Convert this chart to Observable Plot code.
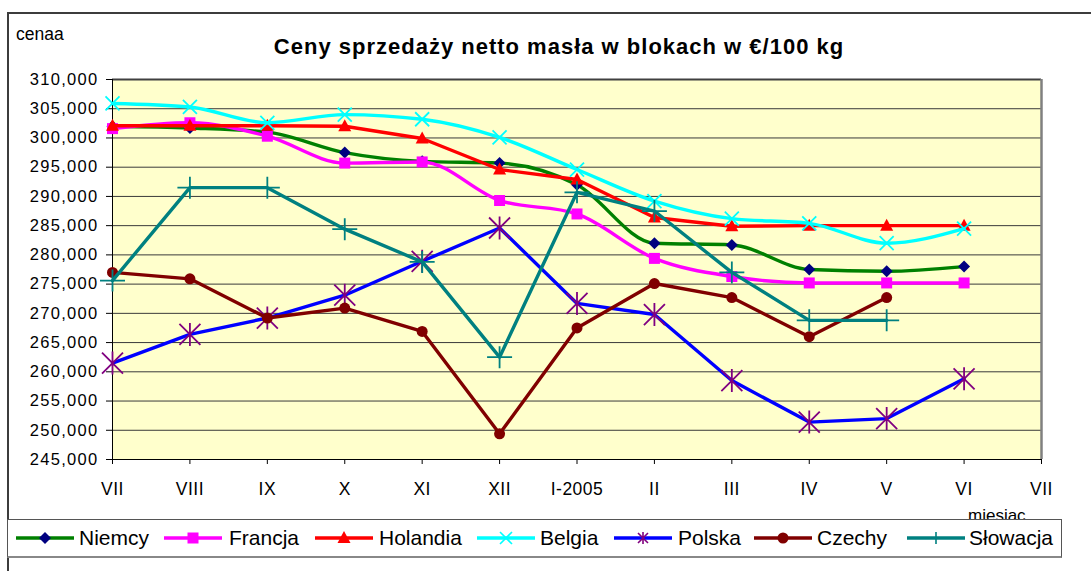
<!DOCTYPE html>
<html>
<head>
<meta charset="utf-8">
<script src="https://cdn.jsdelivr.net/npm/d3@7"></script>
<script src="https://cdn.jsdelivr.net/npm/@observablehq/plot@0.6"></script>
<style>
  html, body { margin: 0; padding: 0; background: #fff; }
  body { width: 1091px; height: 571px; position: relative; overflow: hidden;
         font-family: "Liberation Sans", Arial, sans-serif; color: #000; }
  #outer { position: absolute; left: 7px; top: 12px; width: 1200px; height: 700px;
           border-left: 2px solid #3c3c3c; border-top: 2px solid #3c3c3c; z-index: 2; pointer-events: none; }
  #chart { position: absolute; left: 0; top: 0; z-index: 1; }
  #cenaa { position: absolute; left: 16px; top: 26px; font-size: 17.5px; line-height: 1; z-index: 3; }
  #title { position: absolute; left: 0; width: 1118px; text-align: center; top: 36px; font-size: 22px;
           font-weight: bold; line-height: 1; letter-spacing: 1px; z-index: 3; white-space: nowrap; }
  #miesiac { position: absolute; left: 968px; top: 507px; font-size: 17px; line-height: 1; z-index: 3; }
  #legend { position: absolute; left: 7px; top: 519px; width: 1053px; height: 36px; background: #fff;
            border: 1px solid #555; border-bottom: 2px solid #888; z-index: 4; overflow: hidden; }
  .li { position: absolute; top: 0; height: 36px; line-height: 36px; font-size: 21px; white-space: nowrap; }
  .li svg { position: absolute; top: 10px; }
  #chart g[aria-label="y-axis tick label"] text { letter-spacing: 1.3px; }
  #chart g[aria-label="x-axis tick label"] text { letter-spacing: 0.5px; }
</style>
</head>
<body>
<div id="outer"></div>
<div id="chart"></div>
<div id="cenaa">cenaa</div>
<div id="title">Ceny sprzedaży netto masła w blokach w €/100 kg</div>
<div id="miesiac">miesiac</div>
<div id="legend"></div>
<script>
// ---- data ----
const months = ["VII", "VIII", "IX", "X", "XI", "XII", "I-2005", "II", "III", "IV", "V", "VI", "VII"];
const yTicks = [245000, 250000, 255000, 260000, 265000, 270000, 275000, 280000, 285000, 290000, 295000, 300000, 305000, 310000];
const seriesNames = ["Niemcy", "Francja", "Holandia", "Belgia", "Polska", "Czechy", "Słowacja"];
const niemcy   = [302000, 301700, 301000, 297500, 296000, 295700, 292000, 282000, 281700, 277500, 277200, 278000, null];
const francja  = [301600, 302600, 300300, 295700, 295900, 289300, 287000, 279400, 276300, 275200, 275200, 275200, null];
const holandia = [302100, 302100, 302100, 302000, 299900, 294600, 292900, 286400, 284900, 285000, 285000, 285000, null];
const belgia   = [305900, 305300, 302600, 304000, 303200, 300100, 294600, 289200, 286200, 285400, 282000, 284500, null];
const polska   = [261500, 266400, 269200, 273100, 278900, 284600, 271700, 269800, 258500, 251400, 252000, 258800, null];
const czechy   = [277000, 275900, 269200, 270900, 266900, 249400, 267500, 275100, 272700, 266000, 272700, null, null];
const slowacja = [275600, 291500, 291500, 284400, 278800, 262500, 290700, 287500, 277000, 268800, 268800, null, null];
const seriesValues = [niemcy, francja, holandia, belgia, polska, czechy, slowacja];

// ---- styles ----
const sym = {
  diamond:  {draw(c) { c.moveTo(0, -6); c.lineTo(6, 0); c.lineTo(0, 6); c.lineTo(-6, 0); c.closePath(); }},
  square:   {draw(c) { c.rect(-5.5, -5.5, 11, 11); }},
  triangle: {draw(c) { c.moveTo(0, -7); c.lineTo(6.5, 5); c.lineTo(-6.5, 5); c.closePath(); }},
  times:    {draw(c) { c.moveTo(-7, -7); c.lineTo(7, 7); c.moveTo(7, -7); c.lineTo(-7, 7); }},
  asterisk: {draw(c) { c.moveTo(0, -11.5); c.lineTo(0, 11.5); c.moveTo(-10.5, -10.5); c.lineTo(10.5, 10.5); c.moveTo(10.5, -10.5); c.lineTo(-10.5, 10.5); }},
  plus:     {draw(c) { c.moveTo(-12.5, 0); c.lineTo(12.5, 0); c.moveTo(0, -11); c.lineTo(0, 11); }},
  circle:   {draw(c) { c.moveTo(5.5, 0); c.arc(0, 0, 5.5, 0, 2 * Math.PI); }}
};
const legSym = {
  asterisk: {draw(c) { c.moveTo(0, -6); c.lineTo(0, 6); c.moveTo(-5, -5); c.lineTo(5, 5); c.moveTo(5, -5); c.lineTo(-5, 5); }},
  plus:     {draw(c) { c.moveTo(-5, 0); c.lineTo(5, 0); c.moveTo(0, -6); c.lineTo(0, 6); }},
  times:    {draw(c) { c.moveTo(-6, -6); c.lineTo(6, 6); c.moveTo(6, -6); c.lineTo(-6, 6); }}
};
const styleOf = {
  "Niemcy":   {line: "#008000", mark: "#000080", sym: "diamond",  filled: true,  curve: "monotone-x"},
  "Francja":  {line: "#FF00FF", mark: "#FF00FF", sym: "square",   filled: true,  curve: "monotone-x"},
  "Holandia": {line: "#FF0000", mark: "#FF0000", sym: "triangle", filled: true,  curve: "linear"},
  "Belgia":   {line: "#00FFFF", mark: "#00FFFF", sym: "times",    filled: false, curve: "monotone-x"},
  "Polska":   {line: "#0000FF", mark: "#800080", sym: "asterisk", filled: false, curve: "linear"},
  "Czechy":   {line: "#800000", mark: "#800000", sym: "circle",   filled: true,  curve: "linear"},
  "Słowacja": {line: "#008080", mark: "#008080", sym: "plus",     filled: false, curve: "linear"}
};

// ---- table ----
const rows = seriesNames.flatMap((name, k) =>
  seriesValues[k].map((v, i) => ({name, i, v})).filter(d => d.v != null));

const seriesMarks = seriesNames.flatMap(name => {
  const s = styleOf[name];
  const data = rows.filter(d => d.name === name);
  return [
    Plot.line(data, {x: "i", y: "v", stroke: s.line, strokeWidth: 3.4, curve: s.curve}),
    Plot.dot(data, s.filled
      ? {x: "i", y: "v", symbol: sym[s.sym], fill: s.mark, stroke: "none"}
      : {x: "i", y: "v", symbol: sym[s.sym], fill: "none", stroke: s.mark, strokeWidth: 1.8})
  ];
});

const chart = Plot.plot({
  width: 1091,
  height: 571,
  marginLeft: 112,
  marginRight: 50,
  marginTop: 79,
  marginBottom: 112,
  style: {fontFamily: "'Liberation Sans', Arial, sans-serif", background: "transparent", color: "#000", overflow: "visible"},
  x: {domain: [0, months.length - 1]},
  y: {domain: [yTicks[0], yTicks[yTicks.length - 1]]},
  marks: [
    Plot.frame({fill: "#FFFFCC", stroke: "none"}),
    Plot.ruleY(yTicks.slice(1, -1), {stroke: "#3a3a3a", strokeWidth: 1}),
    Plot.ruleY([yTicks[yTicks.length - 1]], {stroke: "#404040", strokeWidth: 2}),
    Plot.ruleX([months.length - 1], {stroke: "#808080", strokeWidth: 2.5}),
    Plot.ruleX([0], {stroke: "#000", strokeWidth: 1}),
    Plot.ruleY([yTicks[0]], {stroke: "#000", strokeWidth: 1}),
    Plot.axisY({ticks: yTicks, tickFormat: d3.format(","), tickSize: 6, tickPadding: 8, fontSize: 16.5, label: null}),
    Plot.axisX({ticks: d3.range(months.length), tickFormat: i => months[i], tickSize: 5, tickPadding: 18, fontSize: 17.5, label: null}),
    ...seriesMarks
  ]
});
document.getElementById("chart").append(chart);

// ---- legend ----
const legPos = [[7, 71], [155, 221], [306, 371], [468, 532], [605, 670], [745, 809], [898, 961]];
const legend = document.getElementById("legend");
seriesNames.forEach((name, k) => {
  const s = styleOf[name];
  const item = document.createElement("div");
  item.className = "li";
  item.style.left = legPos[k][0] + "px";
  const p = d3.path();
  (legSym[s.sym] || sym[s.sym]).draw(p, 0);
  const markAttrs = s.filled
    ? `fill="${s.mark}" stroke="none"`
    : `fill="none" stroke="${s.mark}" stroke-width="1.6"`;
  item.innerHTML =
    `<svg width="60" height="16" viewBox="-1 -8 60 16" style="left:0"><line x1="0" x2="58" y1="0" y2="0" stroke="${s.line}" stroke-width="3.4"/>` +
    `<path transform="translate(29,0)" d="${p.toString()}" ${markAttrs}/></svg>` +
    `<span style="position:absolute;left:${legPos[k][1] - legPos[k][0]}px">${name}</span>`;
  legend.append(item);
});
</script>
</body>
</html>
